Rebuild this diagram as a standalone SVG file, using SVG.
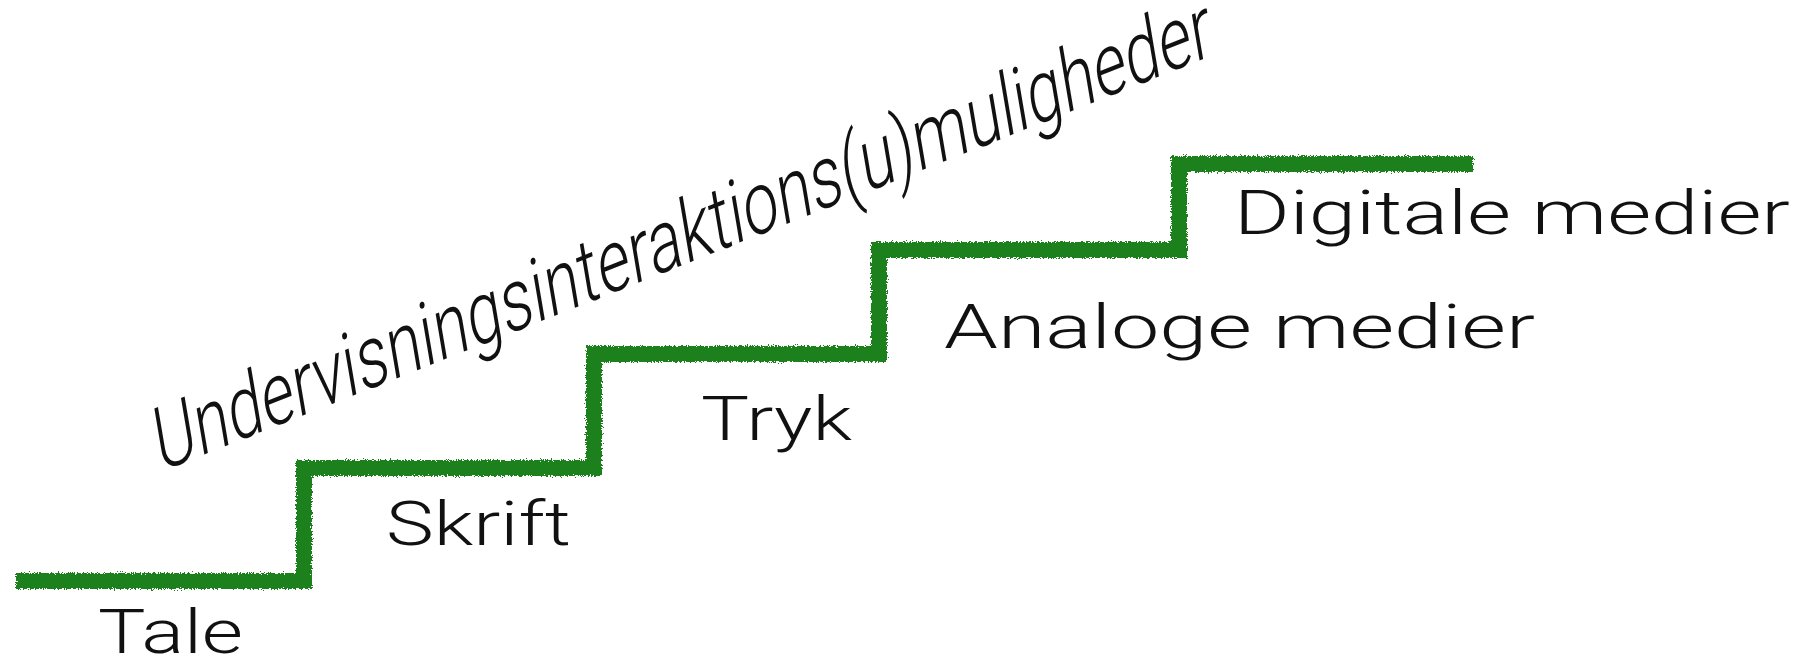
<svg xmlns="http://www.w3.org/2000/svg" width="1817" height="662" viewBox="0 0 1817 662">
<style>
.lbl{font-family:Roboto,"Liberation Sans",sans-serif;font-weight:300;font-size:62px;fill:#111}
.title{font-family:Roboto,"Liberation Sans",sans-serif;font-weight:300;font-size:86px;fill:#111}
.stair{fill:none;stroke:#1b811b;stroke-width:16;stroke-linejoin:miter;stroke-linecap:butt}
</style>
<defs>
<filter id="rough" x="-5%" y="-20%" width="110%" height="140%">
<feTurbulence type="fractalNoise" baseFrequency="0.7" numOctaves="2" seed="3" result="n"/>
<feDisplacementMap in="SourceGraphic" in2="n" scale="6" xChannelSelector="R" yChannelSelector="G"/>
</filter>
</defs>
<rect width="1817" height="662" fill="#fff"/>
<g id="connectors">
<path class="stair" filter="url(#rough)" d="M16 581 H304 V468 H594 V354 H879 V250 H1179 V164 H1473"/>
</g>
<g id="title"><text class="title" transform="translate(160 472) rotate(-21.6) skewX(-12)" textLength="1135" lengthAdjust="spacingAndGlyphs">Undervisningsinteraktions(u)muligheder</text></g>
<g id="tale"><text class="lbl" x="98" y="653" textLength="145" lengthAdjust="spacingAndGlyphs">Tale</text></g>
<g id="skrift"><text class="lbl" x="386" y="545" textLength="185" lengthAdjust="spacingAndGlyphs">Skrift</text></g>
<g id="tryk"><text class="lbl" x="701" y="440" textLength="151" lengthAdjust="spacingAndGlyphs">Tryk</text></g>
<g id="analoge"><text class="lbl" x="944" y="348" textLength="591" lengthAdjust="spacingAndGlyphs">Analoge medier</text></g>
<g id="digitale"><text class="lbl" x="1234" y="234" textLength="556" lengthAdjust="spacingAndGlyphs">Digitale medier</text></g>
</svg>
